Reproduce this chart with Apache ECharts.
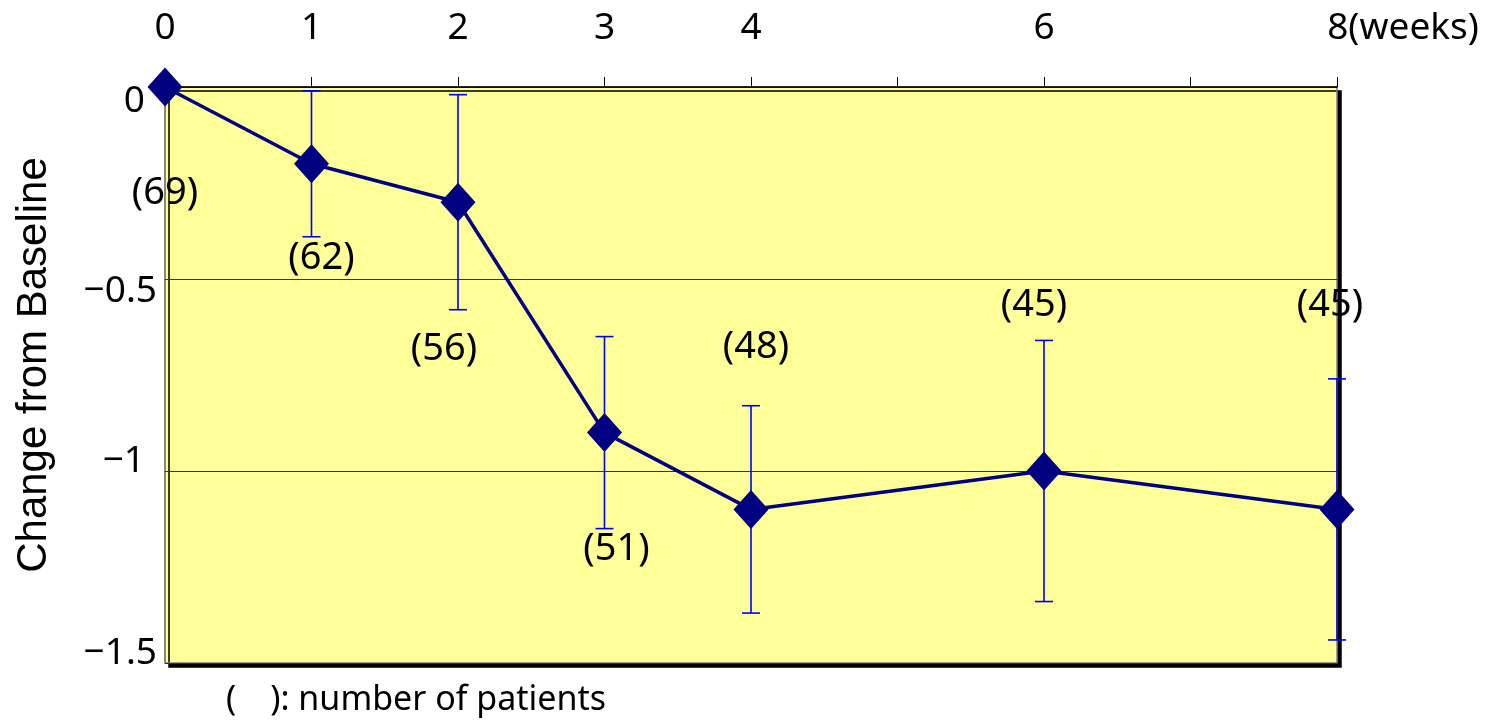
<!DOCTYPE html>
<html>
<head>
<meta charset="utf-8">
<title>Change from Baseline</title>
<script src="https://cdn.jsdelivr.net/npm/echarts@6/dist/echarts.min.js"></script>
<style>
  html, body { margin: 0; padding: 0; background: #fff; }
  #chart { width: 1503px; height: 726px; }
</style>
</head>
<body>
<div id="chart"></div>
<script>
// Study visits (weeks from baseline)
const weeks = [0, 1, 2, 3, 4, 6, 8];
// Mean change from baseline at each visit
const meanChange = [0, -0.2, -0.3, -0.9, -1.1, -1.0, -1.1];
// Half-length of the error bar at each visit
const errorHalf = [0, 0.19, 0.28, 0.25, 0.27, 0.34, 0.34];
// Number of patients at each visit
const patients = [69, 62, 56, 51, 48, 45, 45];
// Top axis tick labels, one per week 0..8
const xTickLabels = ['0', '1', '2', '3', '4', '', '6', '', '8(weeks)'];
// Left axis tick labels
const yTickLabels = { '0': '0', '-0.5': '\u22120.5', '-1': '\u22121', '-1.5': '\u22121.5' };

// Where each "(n)" label sits relative to its marker, in pixels
const labelOffsets = [[0, 106], [10, 94], [-14, 147], [12, 117], [5, -162], [-10, -166], [-7, -204]];
// Rich style used by each left-axis tick label
const yLabelStyle = { '0': 'a', '-0.5': 'b', '-1': 'c', '-1.5': 'd' };

const FONT = 'Noto Sans';
const NAVY = '#000080';

const chart = echarts.init(document.getElementById('chart'), null, { renderer: 'canvas' });

const lineData = weeks.map((w, i) => ({
  value: [w, meanChange[i]],
  label: {
    show: true,
    position: 'inside',
    offset: labelOffsets[i],
    formatter: '(' + patients[i] + ')',
    color: '#000',
    fontFamily: FONT,
    fontSize: 38
  }
}));

const errorData = weeks
  .map((w, i) => [w, meanChange[i] - errorHalf[i], meanChange[i] + errorHalf[i]])
  .filter((d, i) => errorHalf[i] > 0);

const yRich = (pad) => ({ fontFamily: FONT, fontSize: 37, color: '#000', padding: pad });

chart.setOption({
  animation: false,
  backgroundColor: '#ffffff',
  title: {
    text: '(\u3000): number of patients',
    left: 221,
    top: 678,
    textStyle: { fontFamily: FONT, fontSize: 34, fontWeight: 'normal', color: '#000' }
  },
  grid: {
    show: true,
    left: 165,
    right: 166,
    top: 87,
    bottom: 63,
    backgroundColor: '#FFFF99',
    borderColor: '#808080',
    borderWidth: 1.5,
    shadowColor: '#000000',
    shadowBlur: 0,
    shadowOffsetX: 4,
    shadowOffsetY: 4
  },
  xAxis: {
    type: 'value',
    position: 'top',
    min: 0,
    max: 8,
    interval: 1,
    axisLine: { show: true, lineStyle: { color: '#000', width: 1.5 } },
    axisTick: { show: true, inside: false, length: 10, lineStyle: { color: '#000', width: 1 } },
    splitLine: { show: false },
    axisLabel: {
      margin: 40,
      color: '#000',
      fontFamily: FONT,
      fontSize: 37,
      formatter: v => {
        const t = xTickLabels[Math.round(v)] || '';
        return t.indexOf('(') > 0 ? '{w|' + t + '}' : t;
      },
      rich: {
        w: { fontFamily: FONT, fontSize: 37, color: '#000', padding: [0, 0, 0, 132] }
      }
    }
  },
  yAxis: {
    type: 'value',
    min: -1.5,
    max: 0,
    interval: 0.5,
    name: 'Change from Baseline',
    nameLocation: 'middle',
    nameRotate: 90,
    nameGap: 110,
    nameTextStyle: {
      fontFamily: 'Liberation Sans',
      fontSize: 42,
      color: '#000',
      padding: [0, 0, 0, 20]
    },
    axisLine: { show: true, lineStyle: { color: '#808080', width: 1.5 } },
    axisTick: { show: true, inside: true, length: 6, lineStyle: { color: '#333' } },
    splitLine: { show: true, lineStyle: { color: '#333333', width: 1 } },
    axisLabel: {
      margin: 8,
      color: '#000',
      fontFamily: FONT,
      fontSize: 37,
      formatter: v => {
        const key = String(v);
        const t = yTickLabels[key] || key;
        return '{' + (yLabelStyle[key] || 'b') + '|' + t + '}';
      },
      rich: {
        a: yRich([28, 12, 0, 0]),
        b: yRich([24, 0, 0, 0]),
        c: yRich([0, 12, 20, 0]),
        d: yRich([0, 0, 20, 0])
      }
    }
  },
  series: [
    {
      name: 'error',
      type: 'custom',
      z: 2,
      clip: false,
      data: errorData,
      renderItem: (params, api) => {
        const x = api.value(0);
        const pLo = api.coord([x, api.value(1)]);
        const pHi = api.coord([x, api.value(2)]);
        const cap = 9;
        const style = { stroke: '#0000FF', lineWidth: 1.6 };
        return {
          type: 'group',
          children: [
            { type: 'line', shape: { x1: pLo[0], y1: pLo[1], x2: pHi[0], y2: pHi[1] }, style },
            { type: 'line', shape: { x1: pHi[0] - cap, y1: pHi[1], x2: pHi[0] + cap, y2: pHi[1] }, style },
            { type: 'line', shape: { x1: pLo[0] - cap, y1: pLo[1], x2: pLo[0] + cap, y2: pLo[1] }, style }
          ]
        };
      }
    },
    {
      name: 'mean',
      type: 'line',
      z: 3,
      clip: false,
      data: lineData,
      symbol: 'diamond',
      symbolSize: [35, 39],
      showAllSymbol: true,
      itemStyle: { color: NAVY },
      lineStyle: { color: NAVY, width: 3.5 }
    }
  ]
});
</script>
</body>
</html>
